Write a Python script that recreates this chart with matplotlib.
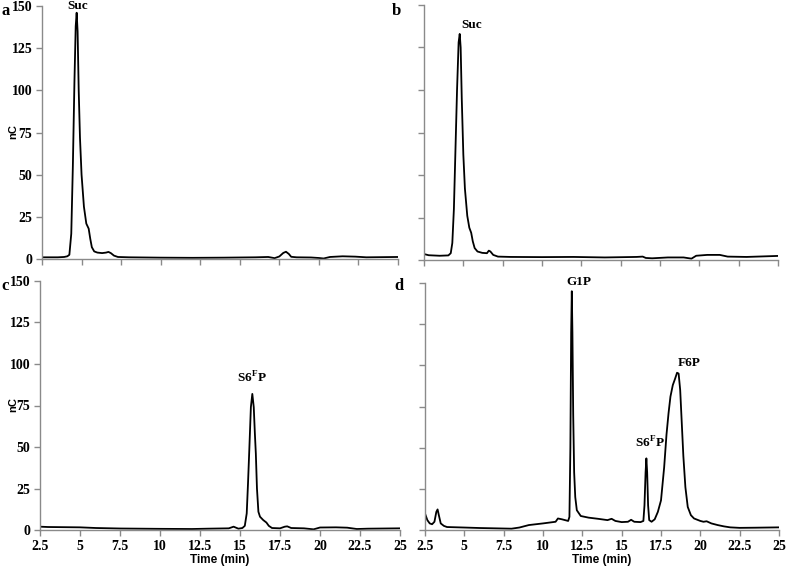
import matplotlib
matplotlib.use("Agg")
import matplotlib.pyplot as plt

plt.rcParams['mathtext.fontset'] = 'custom'
plt.rcParams['mathtext.rm'] = 'Liberation Serif:bold'
plt.rcParams['mathtext.bf'] = 'Liberation Serif:bold'

# chromatogram traces (time in min, signal in nC)
time_a = [2.5, 3.5, 3.9, 4.1, 4.23, 4.35, 4.45, 4.55, 4.63, 4.69, 4.75, 4.82, 4.9, 5.0,
          5.15, 5.3, 5.45, 5.55, 5.65, 5.8, 6.0, 6.3, 6.55, 6.7, 6.85, 7.05, 7.3, 8.0,
          10.0, 12.0, 14.0, 16.0, 16.8, 17.2, 17.5, 17.75, 17.92, 18.1, 18.25, 18.6,
          19.5, 20.0, 20.3, 20.7, 21.5, 22.3, 23.0, 25.0]
nc_a = [1.0, 1.0, 1.2, 1.6, 2.5, 15, 55, 105, 138, 146, 135, 100, 72, 50,
        31, 21, 18, 12, 7, 4.5, 3.8, 3.5, 3.8, 4.2, 3.5, 2.0, 1.2, 1.0,
        0.8, 0.7, 0.8, 1.0, 1.2, 0.5, 1.5, 3.6, 4.3, 3.0, 1.3, 1.0,
        0.9, 0.6, 0.3, 1.2, 1.6, 1.4, 1.0, 1.2]

time_b = [2.5, 2.8, 3.5, 4.05, 4.2, 4.3, 4.4, 4.5, 4.6, 4.7, 4.77, 4.83, 4.9, 5.0,
          5.1, 5.25, 5.38, 5.5, 5.6, 5.72, 5.9, 6.2, 6.5, 6.62, 6.72, 6.9, 7.2, 8.0,
          10.0, 12.0, 14.0, 16.0, 16.4, 16.6, 17.0, 18.0, 19.0, 19.5, 19.8, 20.5,
          21.3, 21.8, 23.0, 25.0]
nc_b = [3.5, 2.8, 2.5, 2.7, 4, 10, 30, 65, 100, 128, 133, 125, 95, 62,
        42, 26, 19, 16, 11, 7, 5, 4.2, 4, 5.5, 5, 3, 2, 1.8,
        1.7, 1.8, 1.5, 1.8, 2, 1.2, 1.0, 1.5, 1.5, 0.8, 2.5, 3,
        3, 2, 1.8, 2.4]

time_c = [2.5, 3.0, 4.0, 5.0, 6.0, 7.5, 10.0, 12.0, 13.0, 14.3, 14.6, 14.9, 15.15,
          15.3, 15.42, 15.5, 15.58, 15.68, 15.77, 15.86, 15.93, 15.99, 16.06, 16.15,
          16.25, 16.45, 16.65, 16.8, 17.0, 17.5, 17.8, 17.95, 18.2, 19.0, 19.6, 20.0,
          21.0, 21.7, 22.3, 23.0, 25.0]
nc_c = [2.0, 1.8, 1.7, 1.6, 1.2, 0.9, 0.7, 0.6, 0.8, 1.0, 2.0, 0.8, 1.2,
        2.5, 10, 28, 48, 74, 82, 74, 58, 46, 25, 11,
        8, 6, 4.5, 2.5, 1.2, 1.0, 2.0, 2.2, 1.2, 1.0, 0.4, 1.5,
        1.6, 1.4, 0.6, 0.8, 1.0]

time_d = [2.5, 2.65, 2.8, 2.95, 3.1, 3.22, 3.3, 3.38, 3.5, 3.7, 3.9, 5.0, 6.0, 7.0,
          8.0, 8.5, 9.1, 10.0, 10.8, 10.95, 11.2, 11.6, 11.68, 11.74, 11.79, 11.83,
          11.87, 11.92, 11.98, 12.05, 12.15, 12.4, 12.9, 13.5, 14.1, 14.36, 14.6,
          15.0, 15.4, 15.6, 15.8, 16.2, 16.38, 16.45, 16.52, 16.57, 16.62, 16.68,
          16.75, 16.9, 17.1, 17.3, 17.5, 17.7, 17.85, 17.98, 18.1, 18.25, 18.4,
          18.52, 18.62, 18.72, 18.82, 18.92, 19.05, 19.2, 19.4, 19.6, 20.0, 20.2,
          20.4, 20.7, 21.1, 21.5, 21.9, 22.5, 23.5, 25.0]
nc_d = [10, 6, 4, 3.5, 5, 11, 12.5, 9, 4, 2.5, 1.8, 1.5, 1.2, 1.0,
        0.8, 1.5, 3, 4, 5, 7, 6.5, 5.5, 8, 50, 120, 145,
        120, 70, 35, 20, 12, 8.5, 7.5, 6.8, 6, 6.8, 5.5,
        4.8, 5, 6.2, 5, 4.8, 5.5, 15, 35, 43.5, 35, 15,
        6, 5, 6.5, 11, 18, 38, 58, 71, 81, 88, 92,
        95.5, 95, 85, 65, 45, 26, 14, 9, 7, 5.5, 5,
        5.3, 4, 3, 2.2, 1.6, 1.3, 1.4, 1.6]

x_ticks = [2.5, 5, 7.5, 10, 12.5, 15, 17.5, 20, 22.5, 25]
x_labels = ['2.5', '5', '7.5', '10', '12.5', '15', '17.5', '20', '22.5', '25']
y_ticks = [0, 25, 50, 75, 100, 125, 150]

W, H = 787, 567
fig = plt.figure(figsize=(W / 100, H / 100), dpi=100)


def px_axes(left, top, right, bottom):
    return fig.add_axes([left / W, 1 - bottom / H, (right - left) / W, (bottom - top) / H])


serif = dict(family='Liberation Serif', weight='bold')
sans = dict(family='Liberation Sans', weight='bold')
grey = '#8a8a8a'

panels = [
    ('a', (42, 6, 398, 259), time_a, nc_a, True, False),
    ('b', (424, 5, 778, 260), time_b, nc_b, False, False),
    ('c', (40, 281, 400, 530), time_c, nc_c, True, True),
    ('d', (425, 283, 779, 530), time_d, nc_d, False, True),
]

axes = {}
for letter, box, t, v, show_y, show_x in panels:
    ax = px_axes(*box)
    axes[letter] = ax
    ax.plot(t, v, color='black', lw=1.3, solid_joinstyle='round')
    ax.set_xlim(2.5, 25)
    ax.set_ylim(0, 150)
    for s in ['top', 'right']:
        ax.spines[s].set_visible(False)
    for s in ['left', 'bottom']:
        ax.spines[s].set_color(grey)
        ax.spines[s].set_linewidth(1.0)
    ax.set_xticks(x_ticks)
    ax.set_yticks(y_ticks)
    ax.tick_params(direction='out', length=4, width=1, color=grey, pad=3)
    if show_x:
        ax.set_xticklabels(x_labels, fontsize=10, **serif)
        ax.set_xlabel('Time (min)', fontsize=8.5, labelpad=1, **sans)
    else:
        ax.set_xticklabels([])
    if show_y:
        ax.set_yticklabels([str(y) for y in y_ticks], fontsize=10, **serif)
    else:
        ax.set_yticklabels([])

# y-axis titles placed at the left margin
fig.text(13 / W, 1 - 132 / H, 'nC', rotation=90, ha='center', va='center',
         fontsize=8, **sans)
fig.text(13 / W, 1 - 405 / H, 'nC', rotation=90, ha='center', va='center',
         fontsize=8, **sans)

# panel letters
fig.text(1 / W, 1 - 15 / H, 'a', fontsize=12, **serif)
fig.text(392 / W, 1 - 15 / H, 'b', fontsize=12, **serif)
fig.text(1 / W, 1 - 290 / H, 'c', fontsize=12, **serif)
fig.text(394 / W, 1 - 290 / H, 'd', fontsize=12, **serif)

# peak labels
lab = dict(fontsize=9.5, ha='center', va='bottom', **serif)
axes['a'].text(4.75, 146.5, 'Suc', clip_on=False, **lab)
axes['b'].text(5.5, 135, 'Suc', **lab)
axes['c'].text(15.75, 87, r'S6$^{\mathbf{F}}$P', **lab)
axes['d'].text(12.3, 147, 'G1P', clip_on=False, **lab)
axes['d'].text(16.8, 48, r'S6$^{\mathbf{F}}$P', **lab)
axes['d'].text(19.3, 98, 'F6P', **lab)

fig.savefig('out.png', dpi=100)
